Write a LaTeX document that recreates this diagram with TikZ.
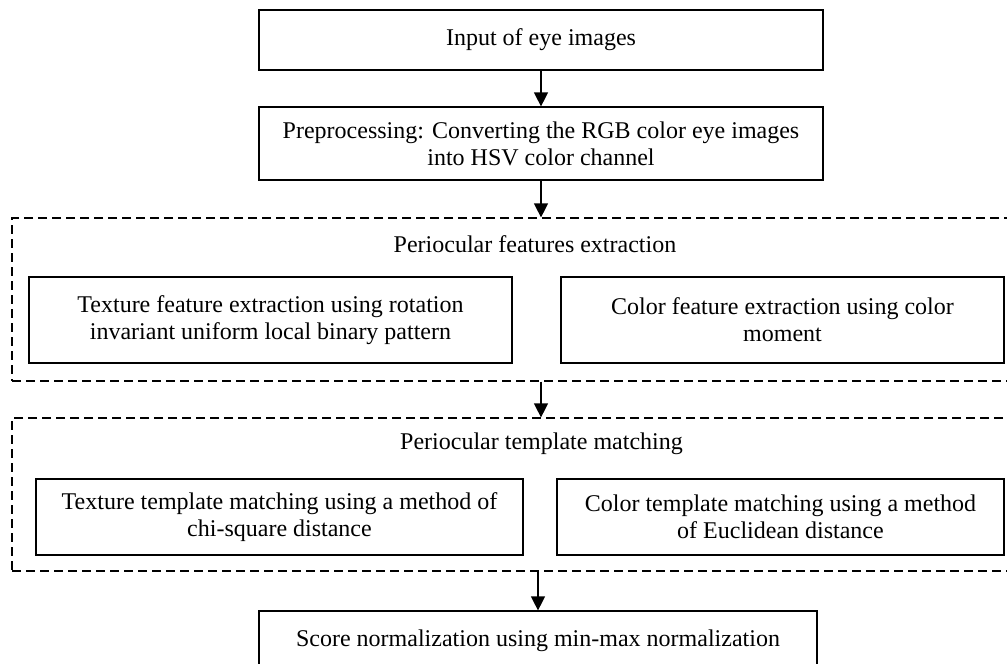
\documentclass[tikz,border=0pt]{standalone}
\usepackage{fontspec}
\setmainfont{Liberation Serif}
\usetikzlibrary{arrows.meta}
\begin{document}
\begin{tikzpicture}[x=1pt,y=-1pt,
  font=\fontsize{24}{27}\selectfont,
  box/.style={draw,line width=1.2pt,rectangle,align=center,inner sep=0pt,anchor=center},
  group/.style={draw,line width=1.2pt,dash pattern=on 9pt off 5pt,rectangle,inner sep=0pt},
  arr/.style={line width=1.2pt,-{Triangle[width=14pt,length=14pt]}},
  title/.style={align=center,inner sep=0pt}]
\clip (0,0) rectangle (1007,664);
\fill[white] (0,0) rectangle (1007,664);
% groups
\node[group,minimum width=1000pt,minimum height=163pt] (d1) at (512,299.5) {};
\node[group,minimum width=1000pt,minimum height=153pt] (d2) at (512,494.5) {};
\node[title] (t1) at (535,244) {Periocular features extraction};
\node[title] (t2) at (541.5,444) {Periocular template matching};
% boxes
\node[box,minimum width=564pt,minimum height=60pt] (b1) at (541,40) {Input of eye images};
\node[box,minimum width=564pt,minimum height=73pt] (b2) at (541,143.5) {Preprocessing: Converting the RGB color eye images\\into HSV color channel};
\node[box,minimum width=483pt,minimum height=86pt] (l1) at (270.5,320) {Texture feature extraction using rotation\\invariant uniform local binary pattern};
\node[box,minimum width=443pt,minimum height=86pt] (r1) at (782.5,320) {Color feature extraction using color\\moment};
\node[box,minimum width=487pt,minimum height=76pt] (l2) at (279.5,517) {Texture template matching using a method of\\chi-square distance};
\node[box,minimum width=447pt,minimum height=76pt] (r2) at (780.5,517) {Color template matching using a method\\of Euclidean distance};
\node[box,minimum width=558pt,minimum height=60pt] (b6) at (538,641) {Score normalization using min-max normalization};
% arrows
\draw[arr] (b1.south) -- (b2.north);
\draw[arr] (b2.south) -- (b2.south |- d1.north);
\draw[arr] (b2.south |- d1.south) -- (b2.south |- d2.north);
\draw[arr] (b6.north |- d2.south) -- (b6.north);
\end{tikzpicture}
\end{document}
